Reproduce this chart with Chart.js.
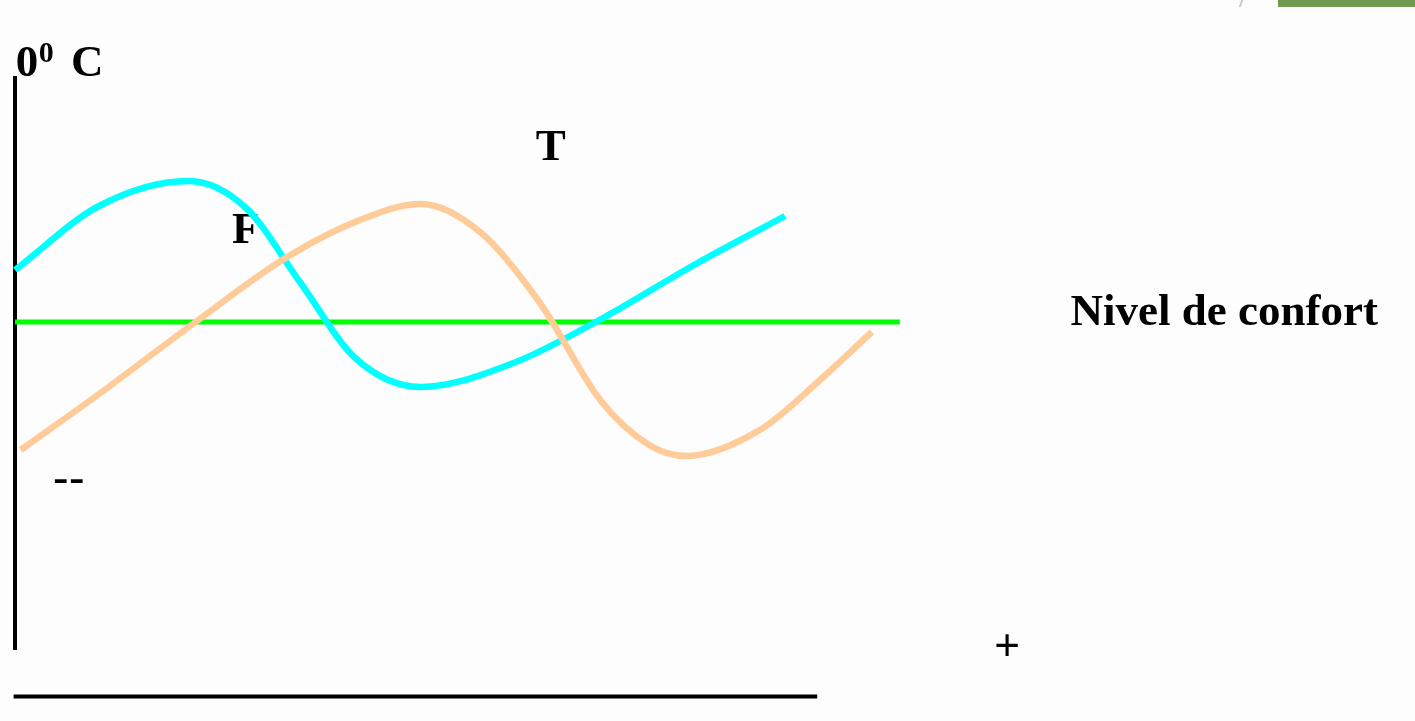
<!DOCTYPE html>
<html>
<head>
<meta charset="utf-8">
<script src="https://cdn.jsdelivr.net/npm/chart.js@4.4.1/dist/chart.umd.min.js"></script>
<style>
    html, body { margin: 0; padding: 0; background: #fdfdfd; overflow: hidden; }
    #wrap { position: relative; width: 1415px; height: 721px; }
    #cantoVerde { position: absolute; left: 1278px; top: 0; width: 137px; height: 7px; background: #6f9a4f; }
    #cantoLinha { position: absolute; left: 1240px; top: 0; width: 2px; height: 7px; background: #c8c8c8; transform: skewX(-20deg); }
</style>
</head>
<body>
<div id="wrap">
    <canvas id="grafico" width="1415" height="721"></canvas>
    <div id="cantoLinha"></div>
    <div id="cantoVerde"></div>
</div>
<script>
// tempo (eixo x) e temperatura (eixo y)
const tempoFrio = [0, 6, 12.4, 16.5, 20.4, 24.3, 29, 35.6, 42, 48.5, 55];
const tempFrio = [38, 44.4, 46.9, 44.2, 36.7, 29.2, 26.3, 28.7, 33.2, 38.5, 43.4];

const tempoQuente = [0.4, 6.1, 12.9, 19.1, 24.3, 29, 33.3, 37.5, 41.8, 45.3, 47.9, 53.2, 57.5, 61.2];
const tempQuente = [20, 25.7, 32.8, 39, 42.8, 44.6, 41.7, 34.7, 25, 20.5, 19.4, 22, 27, 31.8];

const tempoConforto = [0, 63.2];
const nivelConforto = [32.8, 32.8];

const eixoVerticalX = [0, 0];
const eixoVerticalY = [0, 57.4];
const eixoHorizontalX = [-0.1, 57.3];
const eixoHorizontalY = [-4.65, -4.65];

const paraPontos = (xs, ys) => xs.map((x, i) => ({ x, y: ys[i] }));

// rotulos de texto (posicao em unidades dos dados)
const serifBold = "bold 45px 'Liberation Serif', 'Times New Roman', serif";
const rotulos = [
    { texto: '0', x: 0.05, y: 57.4, fonte: serifBold },
    { texto: '0', x: 1.7, y: 58.8, fonte: "bold 30px 'Liberation Serif', 'Times New Roman', serif" },
    { texto: 'C', x: 4.0, y: 57.4, fonte: serifBold },
    { texto: 'T', x: 37.2, y: 49, fonte: serifBold },
    { texto: 'F', x: 15.5, y: 40.7, fonte: serifBold },
    { texto: 'Nivel de confort', x: 75.4, y: 32.5, fonte: serifBold },
    { texto: '--', x: 2.7, y: 15.6, fonte: "48px 'Liberation Sans', Arial, sans-serif" },
    { texto: '+', x: 70.86, y: -1, fonte: "44px 'Liberation Sans', Arial, sans-serif", centro: true }
];

const pluginRotulos = {
    id: 'rotulos',
    beforeDatasetsDraw(chart) {
        const { ctx, scales } = chart;
        ctx.save();
        ctx.fillStyle = '#000000';
        ctx.textBaseline = 'alphabetic';
        rotulos.forEach((r) => {
            ctx.font = r.fonte;
            ctx.textAlign = r.centro ? 'center' : 'left';
            ctx.fillText(r.texto, scales.x.getPixelForValue(r.x), scales.y.getPixelForValue(r.y));
        });
        ctx.restore();
    }
};

const linha = (dados, cor, largura, ordem, extra) => Object.assign({
    data: dados,
    borderColor: cor,
    borderWidth: largura,
    pointRadius: 0,
    fill: false,
    clip: false,
    tension: 0,
    order: ordem
}, extra || {});

new Chart(document.getElementById('grafico'), {
    type: 'line',
    data: {
        datasets: [
            linha(paraPontos(tempoQuente, tempQuente), '#ffcc99', 6.5, 1, { cubicInterpolationMode: 'monotone' }),
            linha(paraPontos(tempoFrio, tempFrio), '#00ffff', 6.5, 2, { cubicInterpolationMode: 'monotone' }),
            linha(paraPontos(tempoConforto, nivelConforto), '#00ff00', 5, 3),
            linha(paraPontos(eixoVerticalX, eixoVerticalY), '#000000', 4, 4),
            linha(paraPontos(eixoHorizontalX, eixoHorizontalY), '#000000', 4, 4)
        ]
    },
    options: {
        responsive: false,
        devicePixelRatio: 1,
        animation: false,
        layout: { padding: { left: 15, right: 0, top: 0, bottom: 0 } },
        plugins: { legend: { display: false }, tooltip: { enabled: false } },
        scales: {
            x: { type: 'linear', display: false, min: 0, max: 100 },
            y: { type: 'linear', display: false, min: -7.1, max: 65 }
        }
    },
    plugins: [pluginRotulos]
});
</script>
</body>
</html>
